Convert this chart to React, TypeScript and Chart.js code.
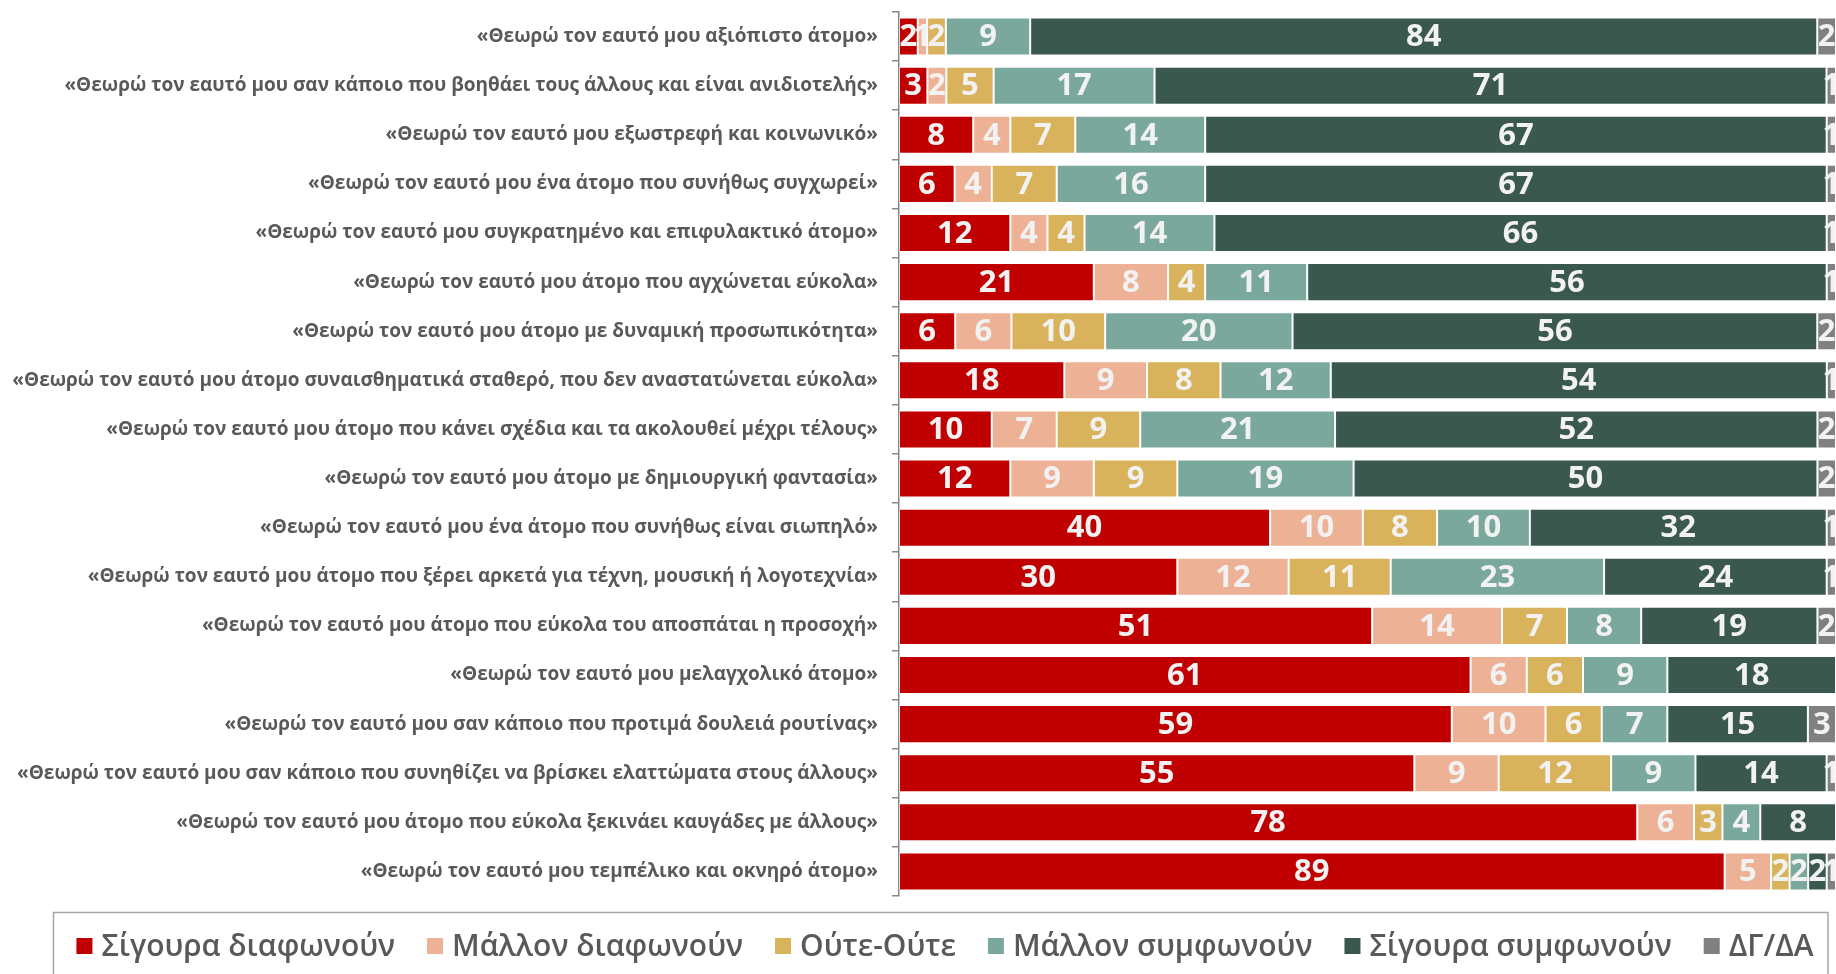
import React, { useEffect, useRef } from "react";
import { Chart, registerables } from "chart.js";

Chart.register(...registerables);

const categories: string[] = [
  "«Θεωρώ τον εαυτό μου αξιόπιστο άτομο»",
  "«Θεωρώ τον εαυτό μου σαν κάποιο που βοηθάει τους άλλους και είναι ανιδιοτελής»",
  "«Θεωρώ τον εαυτό μου εξωστρεφή και κοινωνικό»",
  "«Θεωρώ τον εαυτό μου ένα άτομο που συνήθως συγχωρεί»",
  "«Θεωρώ τον εαυτό μου συγκρατημένο και επιφυλακτικό άτομο»",
  "«Θεωρώ τον εαυτό μου άτομο που αγχώνεται εύκολα»",
  "«Θεωρώ τον εαυτό μου άτομο με δυναμική προσωπικότητα»",
  "«Θεωρώ τον εαυτό μου άτομο συναισθηματικά σταθερό, που δεν αναστατώνεται εύκολα»",
  "«Θεωρώ τον εαυτό μου άτομο που κάνει σχέδια και τα ακολουθεί μέχρι τέλους»",
  "«Θεωρώ τον εαυτό μου άτομο με δημιουργική φαντασία»",
  "«Θεωρώ τον εαυτό μου ένα άτομο που συνήθως είναι σιωπηλό»",
  "«Θεωρώ τον εαυτό μου άτομο που ξέρει αρκετά για τέχνη, μουσική ή λογοτεχνία»",
  "«Θεωρώ τον εαυτό μου άτομο που εύκολα του αποσπάται η προσοχή»",
  "«Θεωρώ τον εαυτό μου μελαγχολικό άτομο»",
  "«Θεωρώ τον εαυτό μου σαν κάποιο που προτιμά δουλειά ρουτίνας»",
  "«Θεωρώ τον εαυτό μου σαν κάποιο που συνηθίζει να βρίσκει ελαττώματα στους άλλους»",
  "«Θεωρώ τον εαυτό μου άτομο που εύκολα ξεκινάει καυγάδες με άλλους»",
  "«Θεωρώ τον εαυτό μου τεμπέλικο και οκνηρό άτομο»",
];

const seriesNames: string[] = [
  "Σίγουρα διαφωνούν",
  "Μάλλον διαφωνούν",
  "Ούτε-Ούτε",
  "Μάλλον συμφωνούν",
  "Σίγουρα συμφωνούν",
  "ΔΓ/ΔΑ",
];

const definitelyDisagree: number[] = [2, 3, 8, 6, 12, 21, 6, 18, 10, 12, 40, 30, 51, 61, 59, 55, 78, 89];
const ratherDisagree: number[] = [1, 2, 4, 4, 4, 8, 6, 9, 7, 9, 10, 12, 14, 6, 10, 9, 6, 5];
const neither: number[] = [2, 5, 7, 7, 4, 4, 10, 8, 9, 9, 8, 11, 7, 6, 6, 12, 3, 2];
const ratherAgree: number[] = [9, 17, 14, 16, 14, 11, 20, 12, 21, 19, 10, 23, 8, 9, 7, 9, 4, 2];
const definitelyAgree: number[] = [84, 71, 67, 67, 66, 56, 56, 54, 52, 50, 32, 24, 19, 18, 15, 14, 8, 2];
const dkNa: number[] = [2, 1, 1, 1, 1, 1, 2, 1, 2, 2, 1, 1, 2, 0, 3, 1, 0, 1];

const seriesValues: number[][] = [definitelyDisagree, ratherDisagree, neither, ratherAgree, definitelyAgree, dkNa];
const seriesColors: string[] = ["#C00000", "#EDB295", "#D9B25C", "#7BA89C", "#3B584F", "#808080"];

// 100% stacked: each row is scaled to its own total
const rowTotals: number[] = categories.map((_, i) => seriesValues.reduce((s, arr) => s + arr[i], 0));
const normalized: number[][] = seriesValues.map((arr) => arr.map((v, i) => (v / rowTotals[i]) * 100));

const LABEL_FONT = "'Open Sans', 'Noto Sans', sans-serif";

const dataLabelPlugin = {
  id: "dataLabels",
  afterDatasetsDraw(chart: any) {
    const ctx = chart.ctx;
    const area = chart.chartArea;
    ctx.save();
    ctx.beginPath();
    ctx.rect(area.left, area.top, area.right - area.left, area.bottom - area.top);
    ctx.clip();
    ctx.font = `bold 31px ${LABEL_FONT}`;
    ctx.fillStyle = "#F2F2F2";
    ctx.textAlign = "center";
    ctx.textBaseline = "middle";
    chart.data.datasets.forEach((ds: any, di: number) => {
      const meta = chart.getDatasetMeta(di);
      meta.data.forEach((bar: any, i: number) => {
        const v = ds.rawValues[i];
        if (!v) return;
        const cx = (bar.x + bar.base) / 2;
        ctx.fillText(String(v), cx, bar.y + 1);
      });
    });
    ctx.restore();
  },
};

const legendPlugin = {
  id: "customLegend",
  afterDraw(chart: any) {
    const ctx = chart.ctx;
    const W = chart.width;
    const H = chart.height;
    ctx.save();
    ctx.strokeStyle = "#A6A6A6";
    ctx.lineWidth = 1.5;
    ctx.strokeRect(53.5, 912.5, W - 8 - 53.5, H);
    ctx.font = `600 30px ${LABEL_FONT}`;
    ctx.textBaseline = "middle";
    ctx.textAlign = "left";
    const box = 16;
    const gapBoxText = 9;
    const gapItems = 32;
    const items = chart.data.datasets.map((ds: any) => ({
      text: ds.label,
      color: ds.backgroundColor,
      w: ctx.measureText(ds.label).width,
    }));
    const total =
      items.reduce((s: number, it: any) => s + box + gapBoxText + it.w, 0) + gapItems * (items.length - 1);
    let x = 945 - total / 2;
    const cy = 946;
    items.forEach((it: any) => {
      ctx.fillStyle = it.color;
      ctx.fillRect(x, cy - box / 2, box, box);
      ctx.fillStyle = "#595959";
      ctx.fillText(it.text, x + box + gapBoxText, cy + 1);
      x += box + gapBoxText + it.w + gapItems;
    });
    ctx.restore();
  },
};

export default function App() {
  const canvasRef = useRef<HTMLCanvasElement | null>(null);

  useEffect(() => {
    if (!canvasRef.current) return;
    const chart = new Chart(canvasRef.current, {
      type: "bar",
      data: {
        labels: categories,
        datasets: seriesNames.map((name, k) => ({
          label: name,
          data: normalized[k],
          rawValues: seriesValues[k],
          backgroundColor: seriesColors[k],
          borderColor: "rgba(255,255,255,0.45)",
          borderWidth: 1,
          borderSkipped: false,
          categoryPercentage: 1,
          barPercentage: 0.775,
        })) as any,
      },
      options: {
        indexAxis: "y",
        animation: false,
        responsive: true,
        maintainAspectRatio: false,
        layout: { padding: { top: 12, bottom: 78, left: 0, right: 0 } },
        plugins: {
          legend: { display: false },
          tooltip: { enabled: false },
        },
        scales: {
          x: {
            stacked: true,
            min: 0,
            max: 100,
            display: false,
          },
          y: {
            stacked: true,
            afterFit: (scale: any) => {
              scale.width = 899;
              scale.paddingTop = 0;
              scale.paddingBottom = 0;
            },
            border: { display: true, color: "#868686", width: 1.5 },
            grid: {
              display: true,
              drawOnChartArea: false,
              drawTicks: true,
              tickLength: 7,
              color: "#868686",
              lineWidth: 1.5,
              offset: true,
            },
            ticks: {
              color: "#595959",
              padding: 14,
              autoSkip: false,
              font: { family: LABEL_FONT, size: 19, weight: "bold" },
            },
          },
        },
      } as any,
      plugins: [dataLabelPlugin, legendPlugin],
    });
    return () => chart.destroy();
  }, []);

  return (
    <div style={{ position: "fixed", left: 0, top: 0, width: 1836, height: 974, background: "#fff" }}>
      <canvas ref={canvasRef} />
    </div>
  );
}
